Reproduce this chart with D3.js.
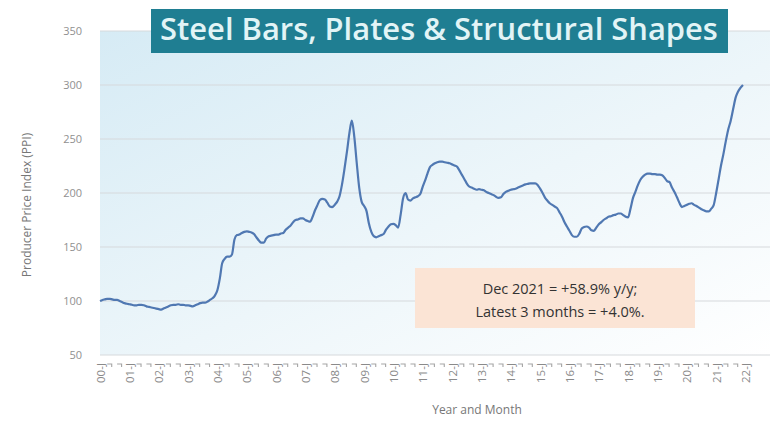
<!DOCTYPE html>
<html>
<head>
<meta charset="utf-8">
<script src="https://cdn.jsdelivr.net/npm/d3@7"></script>
<style>
  html, body { margin: 0; padding: 0; background: #ffffff; }
  svg { display: block; }
</style>
</head>
<body>
<svg id="chart" width="774" height="422"></svg>
<script>
// Monthly producer price index, Jan 2000 – Dec 2021
const startMonth = "2000-01";
const ppi = [
  100, 101, 101.5, 102, 102, 101.5, 101, 101, 100, 99, 98, 97.5,
  97, 96.5, 96, 96, 96.5, 96.5, 96, 95, 94.5, 94, 93.5, 93,
  92.5, 92, 93, 94, 95, 96, 96.5, 96.5, 97, 96.5, 96.5, 96,
  96, 95.5, 95, 96, 97, 98, 98.5, 98.5, 99.5, 101, 102.5, 105,
  110, 121, 135, 139, 141, 141, 143, 157, 161, 161.5, 163, 164,
  164.5, 164, 163.5, 162, 159, 156, 154, 154, 158, 160, 160.5, 161,
  161.5, 161.5, 162.5, 163, 166, 168, 170, 173, 175, 175.5, 176.5, 176.5,
  175, 174, 173.5, 178, 184, 189, 193.5, 194.5, 194, 191, 187.5, 187,
  189, 192, 197, 208, 222, 238, 255, 267, 252, 228, 205, 192,
  188, 183, 172, 164, 160, 159, 160, 161, 162, 166, 169, 171,
  171.5, 170, 168, 180, 195, 200, 194, 193, 195, 196, 197, 199,
  206, 212, 218, 224, 226, 227.5, 228.5, 229, 229, 228.5, 228, 227.5,
  226.5, 225.5, 224.5, 221, 217, 213, 209, 206, 205, 204, 203, 203.5,
  203, 202.5, 201, 200, 199, 198, 196.5, 195.5, 196, 199, 201, 202,
  203, 203.5, 204, 205, 206, 207, 208, 208.5, 209, 209, 209, 207.5,
  204, 200, 196, 193, 190.5, 189, 187.5, 186, 182, 178, 173, 169,
  165, 161, 159.5, 159.5, 162, 167, 168.5, 169, 168, 165.5, 165, 168,
  171, 173, 175, 176.5, 178, 178.5, 179.5, 180, 181, 181, 179.5, 178,
  177.5, 186, 195, 201, 207, 212, 215, 217, 218, 218, 217.5, 217.5,
  217, 217, 216.5, 214, 211, 210, 205, 201, 196, 191, 187, 188,
  189, 190, 190.5, 189, 188, 186.5, 185, 184, 183, 183, 185.5, 188.8,
  200, 213, 225, 236, 248, 259, 267, 278, 288.5, 294, 297.5, 300
];
const yTicks = [50, 100, 150, 200, 250, 300, 350];
const yearLabels = d3.range(0, 23).map(d => String(d).padStart(2, "0") + "-J");
const titleText = "Steel Bars, Plates & Structural Shapes";
const noteLines = ["Dec 2021 = +58.9% y/y;", "Latest 3 months = +4.0%."];
const yTitle = "Producer Price Index (PPI)";
const xTitle = "Year and Month";

const parseMonth = d3.timeParse("%Y-%m");
const t0 = parseMonth(startMonth);
const series = ppi.map((v, i) => ({ date: d3.timeMonth.offset(t0, i), value: v }));

const svg = d3.select("#chart");
const plot = { left: 100, right: 770, top: 31, bottom: 355 };

const x = d3.scaleTime()
  .domain([series[0].date, series[series.length - 1].date])
  .range([100, 743]);
const y = d3.scaleLinear().domain([50, 350]).range([plot.bottom, plot.top]);

// plot area background
const defs = svg.append("defs");
const grad = defs.append("linearGradient")
  .attr("id", "bg").attr("x1", "0").attr("y1", "0").attr("x2", "1").attr("y2", "1");
grad.append("stop").attr("offset", "0%").attr("stop-color", "#d6ebf5");
grad.append("stop").attr("offset", "55%").attr("stop-color", "#edf6fa");
grad.append("stop").attr("offset", "100%").attr("stop-color", "#ffffff");

svg.append("rect")
  .attr("x", plot.left).attr("y", plot.top)
  .attr("width", plot.right - plot.left).attr("height", plot.bottom - plot.top)
  .attr("fill", "url(#bg)");

// horizontal gridlines
svg.append("g").selectAll("line").data(yTicks).join("line")
  .attr("x1", plot.left).attr("x2", plot.right)
  .attr("y1", d => y(d)).attr("y2", d => y(d))
  .attr("stroke", "#d6d9dc").attr("stroke-width", 1);

// y axis labels
const yAxis = d3.axisLeft(y).tickValues(yTicks).tickSize(0).tickPadding(0);
const gy = svg.append("g").attr("transform", "translate(82,0)").call(yAxis);
gy.select(".domain").remove();
gy.selectAll("text")
  .attr("fill", "#909090")
  .style("font-family", "'Open Sans', sans-serif")
  .style("font-size", "11px");

// x axis: yearly labels plus small marks between
const yearTicks = d3.range(0, 23).map(k => d3.timeYear.offset(t0, k));
const xAxis = d3.axisBottom(x).tickValues(yearTicks).tickSize(0).tickPadding(0)
  .tickFormat((d, i) => yearLabels[i]);
const gx = svg.append("g").attr("transform", "translate(0,361)").call(xAxis);
gx.select(".domain").remove();
gx.selectAll("text")
  .attr("fill", "#8a8a8a")
  .style("font-family", "'Open Sans', sans-serif")
  .style("font-size", "11.5px")
  .attr("text-anchor", "end")
  .attr("dy", "0.35em")
  .attr("transform", "rotate(-90) translate(-2,0)");

const minorTicks = [];
yearTicks.forEach(d => {
  [4, 8].forEach(m => {
    const t = d3.timeMonth.offset(d, m);
    if (t < d3.timeYear.offset(t0, 22)) minorTicks.push(t);
  });
});
svg.append("g").selectAll("path").data(minorTicks).join("path")
  .attr("d", d => `M${x(d) - 2.5},364 l4.5,0 l0,3`)
  .attr("fill", "none").attr("stroke", "#a5a5a5").attr("stroke-width", 1.1);

// axis titles
svg.append("text")
  .attr("transform", "translate(27,205) rotate(-90)")
  .attr("text-anchor", "middle").attr("dy", "0.35em")
  .attr("fill", "#777")
  .style("font-family", "'Open Sans', sans-serif").style("font-size", "12px")
  .text(yTitle);
svg.append("text")
  .attr("x", 477).attr("y", 414).attr("text-anchor", "middle")
  .attr("fill", "#777")
  .style("font-family", "'Open Sans', sans-serif").style("font-size", "12px")
  .text(xTitle);

// data line
const line = d3.line().x(d => x(d.date)).y(d => y(d.value)).curve(d3.curveMonotoneX);
svg.append("path").datum(series)
  .attr("d", line)
  .attr("fill", "none")
  .attr("stroke", "#5078b2")
  .attr("stroke-width", 2.2)
  .attr("stroke-linejoin", "round");

// title banner
svg.append("rect")
  .attr("x", 151).attr("y", 9).attr("width", 577).attr("height", 44)
  .attr("fill", "#1f7e92");
const title = svg.append("text")
  .attr("x", 439).attr("y", 40).attr("text-anchor", "middle")
  .attr("fill", "#e2f4f6")
  .style("font-family", "'Open Sans', sans-serif").style("font-size", "25px")
  .style("font-weight", "600")
  .text(titleText);
const tw = title.node().getComputedTextLength();
title.style("font-size", (25 * 558 / tw).toFixed(2) + "px");

// annotation box
svg.append("rect")
  .attr("x", 415).attr("y", 268).attr("width", 280).attr("height", 60)
  .attr("fill", "#fbe4d5");
svg.append("g").selectAll("text").data(noteLines).join("text")
  .attr("x", 560).attr("y", (d, i) => 294 + i * 23)
  .attr("text-anchor", "middle")
  .attr("fill", "#333333")
  .style("font-family", "'Open Sans', sans-serif").style("font-size", "14.5px")
  .text(d => d);
</script>
</body>
</html>
